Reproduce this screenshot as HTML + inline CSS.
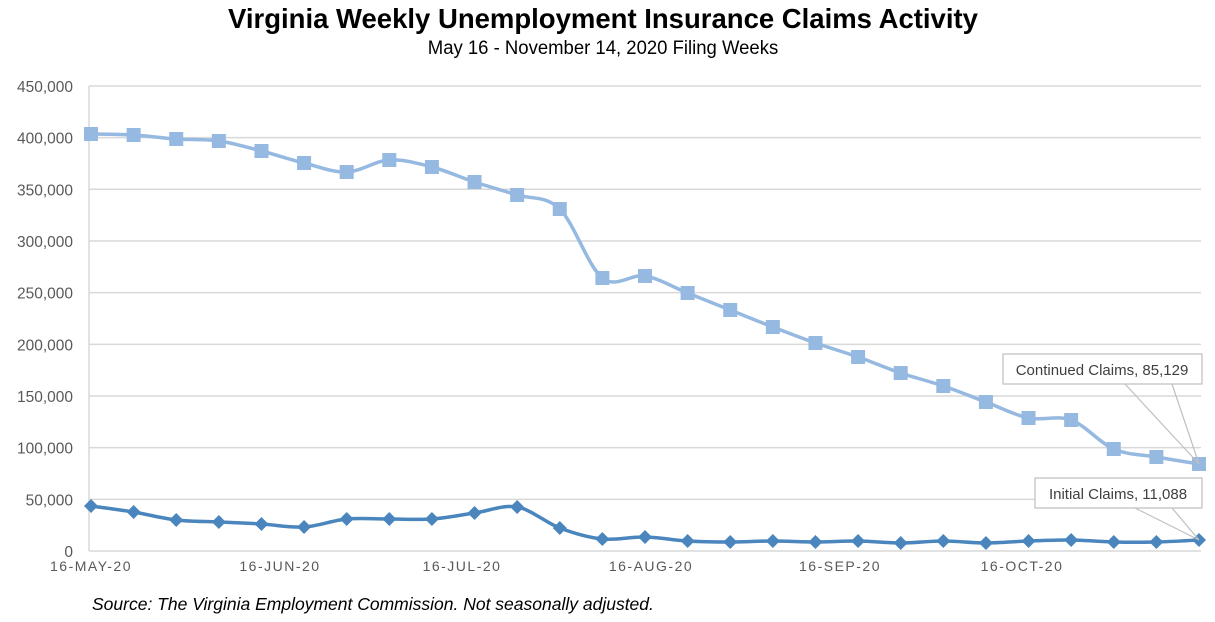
<!DOCTYPE html>
<html><head><meta charset="utf-8"><style>
body{margin:0;background:#fff;width:1215px;height:617px;overflow:hidden;font-family:"Liberation Sans",sans-serif}
</style></head><body>
<svg id="s" width="1215" height="617" xmlns="http://www.w3.org/2000/svg">
<text x="603" y="28" text-anchor="middle" font-size="27.5" font-weight="bold" font-family="Liberation Sans,sans-serif" fill="#000">Virginia Weekly Unemployment Insurance Claims Activity</text>
<text x="603" y="54" text-anchor="middle" font-size="19.5" font-family="Liberation Sans,sans-serif" fill="#000" transform="translate(603,0) scale(0.95,1) translate(-603,0)">May 16 - November 14, 2020 Filing Weeks</text>
<text x="92" y="610" font-size="17.5" font-style="italic" fill="#000">Source: The Virginia Employment Commission. Not seasonally adjusted.</text>
<g id="g"></g>
</svg>
<script>
var g=document.getElementById('g'),h='';
var y0=551;
for(var i=0;i<=9;i++){var y=y0-i*51.67;
 if(i>0)h+='<line x1="89" x2="1201" y1="'+y+'" y2="'+y+'" stroke="#d9d9d9" stroke-width="1.5"/>';
 h+='<text x="73" y="'+(y+6)+'" text-anchor="end" font-size="15.5" fill="#595959">'+(i==0?'0':(i*50)+',000')+'</text>';}
h+='<line x1="89" x2="89" y1="86" y2="551" stroke="#d9d9d9" stroke-width="1.5"/><line x1="89" x2="1201" y1="551" y2="551" stroke="#d9d9d9" stroke-width="1.5"/>';
var L=[[91,'16-MAY-20'],[280,'16-JUN-20'],[462,'16-JUL-20'],[651,'16-AUG-20'],[840,'16-SEP-20'],[1022,'16-OCT-20']];
L.forEach(function(l){h+='<text x="'+l[0]+'" y="571" text-anchor="middle" font-size="14" letter-spacing="1.5" fill="#595959">'+l[1]+'</text>';});
var C=[134,135,139,141,151,163,172,160,167,182,195,209,278,276,293,310,327,343,357,373,386,402,418,420,449,457,464];
var I=[506,512,520,522,524,527,519,519,519,513,507,528,539,537,541,542,541,542,541,543,541,543,541,540,542,542,540];
function X(i){return 91+i*1108/26;}
function path(Y){var p=[];for(var i=0;i<Y.length;i++)p.push([X(i),Y[i]]);var d='M'+p[0][0]+','+p[0][1];
 for(var i=0;i<p.length-1;i++){var a=p[i-1]||p[i],b=p[i],c=p[i+1],e=p[i+2]||c,t=1/6;
 d+=' C'+(b[0]+(c[0]-a[0])*t)+','+(b[1]+(c[1]-a[1])*t)+' '+(c[0]-(e[0]-b[0])*t)+','+(c[1]-(e[1]-b[1])*t)+' '+c[0]+','+c[1];}return d;}
h+='<path d="'+path(C)+'" fill="none" stroke="#95b9e0" stroke-width="3.5"/>';
C.forEach(function(y,i){h+='<rect x="'+(X(i)-7)+'" y="'+(y-7)+'" width="14" height="14" fill="#95b9e0"/>';});
h+='<path d="'+path(I)+'" fill="none" stroke="#4a86bd" stroke-width="3.5"/>';
I.forEach(function(y,i){var x=X(i);h+='<path d="M'+x+','+(y-7)+' L'+(x+7)+','+y+' L'+x+','+(y+7)+' L'+(x-7)+','+y+'Z" fill="#4a86bd"/>';});
h+='<path d="M1125,384 L1199,464 L1172,384" fill="none" stroke="#bfbfbf" stroke-width="1.2"/>';
h+='<rect x="1003" y="354" width="199" height="30" fill="#fff" stroke="#bfbfbf" stroke-width="1.2"/><text x="1102" y="375" text-anchor="middle" font-size="15" fill="#404040">Continued Claims, 85,129</text>';
h+='<path d="M1135,508 L1199,540 L1172,508" fill="none" stroke="#bfbfbf" stroke-width="1.2"/>';
h+='<rect x="1035" y="478" width="167" height="30" fill="#fff" stroke="#bfbfbf" stroke-width="1.2"/><text x="1118" y="499" text-anchor="middle" font-size="15" fill="#404040">Initial Claims, 11,088</text>';
g.innerHTML=h;
</script>
</body></html>
